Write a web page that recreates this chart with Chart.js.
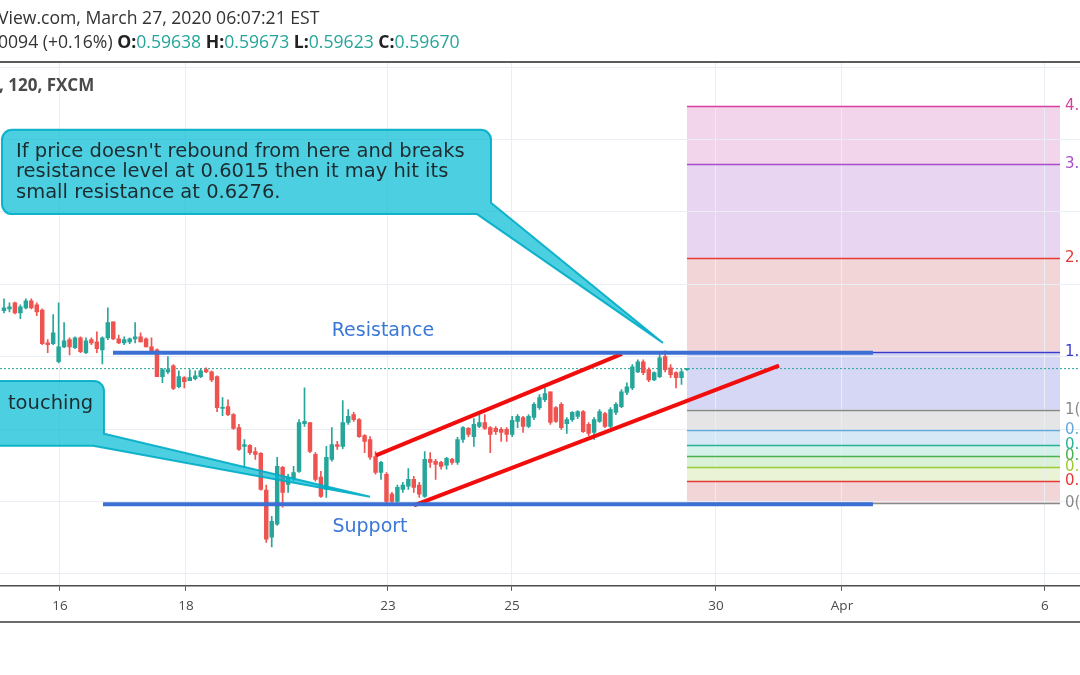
<!DOCTYPE html>
<html lang="en">
<head>
<meta charset="UTF-8">
<title>NZDUSD, 120, FXCM</title>
<script src="https://cdn.jsdelivr.net/npm/chart.js"></script>
<style>
  html, body { margin: 0; padding: 0; background: #fff; }
  body { width: 1080px; height: 675px; position: relative; overflow: hidden; font-family: "Open Sans", sans-serif; }
  #chart { position: absolute; left: 0; top: 0; }
  .hdr { position: absolute; left: -2px; white-space: nowrap; font-size: 17.6px; color: #333; line-height: 20px; }
  .hdr b { color: #222; }
  .hdr .v { color: #26a69a; }
  #sep { position: absolute; left: 0; top: 61px; width: 1080px; height: 2px; background: #5a5a5a; }
  #sym { position: absolute; left: -1px; top: 73px; font-size: 17px; font-weight: bold; color: #4a4a4a; white-space: nowrap; }
  #foot { position: absolute; left: 0; top: 621px; width: 1080px; height: 2px; background: #6b6b6b; }
</style>
</head>
<body>
<canvas id="chart" width="1080" height="675"></canvas>
<div class="hdr" style="top:7px">View.com, March 27, 2020 06:07:21 EST</div>
<div class="hdr" style="top:31px">0094 (+0.16%) <b>O:</b><span class="v">0.59638</span> <b>H:</b><span class="v">0.59673</span> <b>L:</b><span class="v">0.59623</span> <b>C:</b><span class="v">0.59670</span></div>
<div id="sep"></div>
<div id="sym">, 120, FXCM</div>
<div id="foot"></div>

<script>
// 2h candles
const open = [
  0.6127, 0.6132, 0.6149, 0.6121, 0.6135, 0.6154, 0.6143, 0.6129, 0.6038, 0.6036,
  0.5986, 0.6027, 0.6047, 0.6025, 0.6052, 0.6011, 0.6047, 0.6041, 0.6019, 0.6052,
  0.6096, 0.6049, 0.6038, 0.6041, 0.6049, 0.6055, 0.6049, 0.6027, 0.6019, 0.5945,
  0.5958, 0.5975, 0.5917, 0.5942, 0.5934, 0.5939, 0.5945, 0.5964, 0.5958, 0.5945,
  0.5857, 0.5862, 0.5840, 0.5804, 0.5752, 0.5755, 0.5738, 0.5733, 0.5631, 0.5501,
  0.5537, 0.5694, 0.5647, 0.5664, 0.5683, 0.5815, 0.5818, 0.5730, 0.5667, 0.5633,
  0.5716, 0.5757, 0.5752, 0.5818, 0.5840, 0.5826, 0.5782, 0.5771, 0.5724, 0.5680,
  0.5675, 0.5620, 0.5600, 0.5633, 0.5642, 0.5661, 0.5645, 0.5614, 0.5716, 0.5711,
  0.5708, 0.5700, 0.5716, 0.5708, 0.5771, 0.5802, 0.5779, 0.5807, 0.5818, 0.5804,
  0.5802, 0.5799, 0.5799, 0.5785, 0.5821, 0.5832, 0.5807, 0.5832, 0.5859, 0.5881,
  0.5903, 0.5859, 0.5868, 0.5815, 0.5826, 0.5835, 0.5848, 0.5813, 0.5791, 0.5821,
  0.5843, 0.5807, 0.5846, 0.5862, 0.5901, 0.5914, 0.5958, 0.5986, 0.5964, 0.5936,
  0.5945, 0.6000, 0.5969, 0.5956, 0.5942, 0.59638
];
const high = [
  0.6160, 0.6149, 0.6151, 0.6143, 0.6160, 0.6160, 0.6149, 0.6132, 0.6047, 0.6116,
  0.6149, 0.6094, 0.6052, 0.6055, 0.6055, 0.6052, 0.6052, 0.6069, 0.6055, 0.6135,
  0.6096, 0.6060, 0.6055, 0.6052, 0.6094, 0.6066, 0.6052, 0.6052, 0.6022, 0.5967,
  0.6000, 0.5978, 0.5961, 0.5945, 0.5964, 0.5961, 0.5967, 0.5969, 0.5961, 0.5947,
  0.5887, 0.5881, 0.5843, 0.5813, 0.5771, 0.5757, 0.5749, 0.5735, 0.5645, 0.5559,
  0.5722, 0.5697, 0.5675, 0.5697, 0.5826, 0.5914, 0.5818, 0.5735, 0.5683, 0.5752,
  0.5804, 0.5766, 0.5879, 0.5854, 0.5846, 0.5829, 0.5785, 0.5779, 0.5738, 0.5711,
  0.5680, 0.5625, 0.5645, 0.5653, 0.5691, 0.5669, 0.5653, 0.5738, 0.5735, 0.5716,
  0.5711, 0.5722, 0.5719, 0.5777, 0.5807, 0.5804, 0.5829, 0.5840, 0.5840, 0.5807,
  0.5807, 0.5804, 0.5804, 0.5835, 0.5840, 0.5835, 0.5840, 0.5873, 0.5895, 0.5914,
  0.5903, 0.5862, 0.5873, 0.5832, 0.5848, 0.5851, 0.5851, 0.5818, 0.5832, 0.5854,
  0.5846, 0.5859, 0.5873, 0.5909, 0.5928, 0.5978, 0.5991, 0.5991, 0.5969, 0.5958,
  0.6005, 0.6016, 0.5978, 0.5958, 0.5964, 0.59673
];
const low = [
  0.6121, 0.6124, 0.6118, 0.6105, 0.6132, 0.6132, 0.6113, 0.6033, 0.6011, 0.6033,
  0.5983, 0.6025, 0.6005, 0.6022, 0.6011, 0.6008, 0.6033, 0.6011, 0.5980, 0.6047,
  0.6047, 0.6036, 0.6033, 0.6036, 0.6038, 0.6041, 0.6027, 0.6014, 0.5945, 0.5928,
  0.5953, 0.5909, 0.5914, 0.5914, 0.5934, 0.5936, 0.5942, 0.5956, 0.5931, 0.5848,
  0.5837, 0.5837, 0.5799, 0.5741, 0.5694, 0.5730, 0.5716, 0.5631, 0.5487, 0.5474,
  0.5534, 0.5584, 0.5625, 0.5656, 0.5680, 0.5807, 0.5735, 0.5656, 0.5611, 0.5611,
  0.5711, 0.5744, 0.5746, 0.5813, 0.5821, 0.5777, 0.5735, 0.5716, 0.5675, 0.5661,
  0.5592, 0.5598, 0.5598, 0.5625, 0.5633, 0.5625, 0.5611, 0.5611, 0.5694, 0.5661,
  0.5689, 0.5689, 0.5702, 0.5702, 0.5763, 0.5779, 0.5752, 0.5804, 0.5799, 0.5735,
  0.5785, 0.5766, 0.5766, 0.5779, 0.5804, 0.5791, 0.5804, 0.5826, 0.5854, 0.5876,
  0.5813, 0.5818, 0.5799, 0.5788, 0.5821, 0.5829, 0.5791, 0.5782, 0.5771, 0.5818,
  0.5804, 0.5804, 0.5840, 0.5859, 0.5895, 0.5909, 0.5956, 0.5950, 0.5931, 0.5934,
  0.5942, 0.5958, 0.5942, 0.5914, 0.5923, 0.59623
];
const close = [
  0.6135, 0.6138, 0.6121, 0.6138, 0.6154, 0.6135, 0.6124, 0.6036, 0.6033, 0.6066,
  0.6027, 0.6044, 0.6027, 0.6052, 0.6014, 0.6044, 0.6038, 0.6022, 0.6052, 0.6094,
  0.6049, 0.6038, 0.6047, 0.6049, 0.6055, 0.6041, 0.6027, 0.6014, 0.5945, 0.5964,
  0.5964, 0.5912, 0.5945, 0.5931, 0.5942, 0.5947, 0.5961, 0.5958, 0.5936, 0.5859,
  0.5859, 0.5840, 0.5802, 0.5744, 0.5757, 0.5735, 0.5730, 0.5633, 0.5496, 0.5545,
  0.5697, 0.5625, 0.5667, 0.5680, 0.5818, 0.5821, 0.5738, 0.5661, 0.5614, 0.5722,
  0.5757, 0.5752, 0.5818, 0.5835, 0.5826, 0.5779, 0.5766, 0.5722, 0.5680, 0.5708,
  0.5600, 0.5600, 0.5639, 0.5645, 0.5661, 0.5639, 0.5620, 0.5716, 0.5708, 0.5702,
  0.5697, 0.5719, 0.5708, 0.5771, 0.5804, 0.5785, 0.5813, 0.5818, 0.5802, 0.5785,
  0.5793, 0.5791, 0.5785, 0.5824, 0.5835, 0.5807, 0.5835, 0.5868, 0.5887, 0.5898,
  0.5818, 0.5821, 0.5804, 0.5826, 0.5846, 0.5848, 0.5793, 0.5788, 0.5826, 0.5848,
  0.5807, 0.5854, 0.5868, 0.5903, 0.5917, 0.5972, 0.5986, 0.5956, 0.5936, 0.5956,
  0.5997, 0.5964, 0.5950, 0.5942, 0.5958, 0.59670
];

// x is the bar number; day labels sit at these bar positions
const dayTicks = [10.25, 33.31, 70.28, 92.97, 130.31, 153.37, 190.52];
const dayLabels = ['16', '18', '23', '25', '30', 'Apr', '6'];

// drawings (bar, price)
const resistance = [[19.95, 0.6011], [159.04, 0.6011]];
const support = [[18.12, 0.5592], [159.04, 0.5592]];
const channelTop = [[68.08, 0.5727], [113.1, 0.6008]];
const channelBottom = [[75.04, 0.5589], [141.84, 0.5975]];

// fib extension
const fibRatios = [0, 0.236, 0.382, 0.5, 0.618, 0.786, 1, 1.618, 2.618, 3.618, 4.236];
const fibZero = 0.5595, fibOne = 0.5854;
const fibFrom = 125.0, fibTo = 193.26;

const fibLine = ['#8a8a8a', '#e53935', '#9ccc33', '#4caf50', '#26b39a', '#64a8d8', '#8a8a8a', '#3d3dcc', '#e53935', '#a64ccc', '#d63fa0'];
const fibFill = [null, '#f2d5d6', '#eaf3d6', '#d9f2d7', '#d5f2ea', '#d6e8f5', '#e5e5e5', '#d6d6f5', '#f2d5d6', '#e8d5f2', '#f2d5ea'];

const callouts = [
  { box: [-0.37, 0.6627, 89.13, 0.6394], tailRight: 0.6425, tailBottom: 86.57, tip: [120.61, 0.6038],
    at: [2.2, 0.6566],
    lines: ["If price doesn't rebound from here and breaks", "resistance level at 0.6015 then it may hit its", "small resistance at 0.6276."] },
  { box: [-4.4, 0.5933, 18.3, 0.5754], tailRight: 0.5787, tailBottom: 16.29, tip: [66.98, 0.5613],
    at: [0.73, 0.5870], lines: ['touching'] }
];
const labels = [
  { text: 'Resistance', at: [69.36, 0.6071] },
  { text: 'Support', at: [66.98, 0.5530] }
];

const bars = open.map((_, i) => i);
const lastPrice = close[close.length - 1];
const xMin = -0.73, xMax = 196.93;
const upColor = '#26a69a', downColor = '#ef5350';
const candleColor = c => close[c.dataIndex] >= open[c.dataIndex] ? upColor : downColor;
const pts = arr => arr.map(([x, y]) => ({ x, y }));
const fibPrice = r => fibZero + r * (fibOne - fibZero);

const fibPlugin = {
  id: 'fib',
  beforeDraw(chart) {
    const { ctx, scales: { x, y } } = chart;
    const x1 = x.getPixelForValue(fibFrom), x2 = x.getPixelForValue(fibTo);
    ctx.save();
    for (let i = 1; i < fibRatios.length; i++) {
      const top = y.getPixelForValue(fibPrice(fibRatios[i]));
      const bot = y.getPixelForValue(fibPrice(fibRatios[i - 1]));
      ctx.fillStyle = fibFill[i];
      ctx.fillRect(x1, top, x2 - x1, bot - top);
    }
    ctx.restore();
  },
  beforeDatasetsDraw(chart) {
    const { ctx, scales: { x, y } } = chart;
    const x1 = x.getPixelForValue(fibFrom), x2 = x.getPixelForValue(fibTo);
    ctx.save();
    ctx.font = '15px "DejaVu Sans"';
    ctx.textBaseline = 'middle';
    fibRatios.forEach((r, i) => {
      const py = Math.round(y.getPixelForValue(fibPrice(r))) + 0.5;
      ctx.strokeStyle = fibLine[i];
      ctx.lineWidth = 1.5;
      ctx.beginPath(); ctx.moveTo(x1, py); ctx.lineTo(x2, py); ctx.stroke();
      ctx.fillStyle = fibLine[i];
      ctx.fillText(r + '(' + fibPrice(r).toFixed(4) + ')', x2 + 5, py);
    });
    ctx.restore();
  },
  afterDatasetsDraw(chart) {
    const { ctx, scales: { x, y } } = chart;
    ctx.save();
    callouts.forEach(c => {
      const L = x.getPixelForValue(c.box[0]), T = y.getPixelForValue(c.box[1]);
      const R = x.getPixelForValue(c.box[2]), B = y.getPixelForValue(c.box[3]);
      const ty = y.getPixelForValue(c.tailRight), tx = x.getPixelForValue(c.tailBottom);
      const px = x.getPixelForValue(c.tip[0]), py = y.getPixelForValue(c.tip[1]);
      const r = 10;
      ctx.beginPath();
      ctx.moveTo(L + r, T);
      ctx.lineTo(R - r, T); ctx.arcTo(R, T, R, T + r, r);
      ctx.lineTo(R, ty); ctx.lineTo(px, py); ctx.lineTo(tx, B);
      ctx.lineTo(L + r, B); ctx.arcTo(L, B, L, B - r, r);
      ctx.lineTo(L, T + r); ctx.arcTo(L, T, L + r, T, r);
      ctx.closePath();
      ctx.fillStyle = 'rgba(0, 188, 212, 0.7)';
      ctx.fill();
      ctx.strokeStyle = 'rgba(0, 172, 198, 0.9)';
      ctx.lineWidth = 2;
      ctx.stroke();
      ctx.fillStyle = '#1c2b30';
      ctx.font = '19.5px "DejaVu Sans"';
      ctx.textBaseline = 'middle';
      ctx.textAlign = 'left';
      const tx0 = x.getPixelForValue(c.at[0]), ty0 = y.getPixelForValue(c.at[1]);
      c.lines.forEach((s, k) => ctx.fillText(s, tx0, ty0 + k * 20.5));
    });
    ctx.fillStyle = '#3a78d8';
    ctx.font = '19px "DejaVu Sans"';
    ctx.textAlign = 'center';
    ctx.textBaseline = 'middle';
    labels.forEach(l => ctx.fillText(l.text, x.getPixelForValue(l.at[0]), y.getPixelForValue(l.at[1])));
    ctx.restore();
  }
};

const lineSet = (label, data, color, order) => ({
  type: 'line', label, data: pts(data), borderColor: color, borderWidth: 4,
  pointRadius: 0, tension: 0, order
});

new Chart(document.getElementById('chart'), {
  type: 'bar',
  data: {
    datasets: [
      lineSet('Resistance', resistance, '#3b6fd4', 1),
      lineSet('Support', support, '#3b6fd4', 1),
      lineSet('Channel top', channelTop, '#f20d0d', 2),
      lineSet('Channel bottom', channelBottom, '#f20d0d', 2),
      {
        type: 'line', label: 'Last', data: [{ x: xMin, y: lastPrice }, { x: xMax, y: lastPrice }],
        borderColor: '#26a69a', borderWidth: 1, borderDash: [2, 2], pointRadius: 0, order: 7
      },
      {
        type: 'bar', label: 'Body', data: bars.map(i => ({ x: i, y: [open[i], close[i]] })),
        backgroundColor: candleColor, borderWidth: 0, barThickness: 3.8, minBarLength: 1,
        grouped: false, order: 5
      },
      {
        type: 'bar', label: 'Wick', data: bars.map(i => ({ x: i, y: [low[i], high[i]] })),
        backgroundColor: candleColor, borderWidth: 0, barThickness: 1,
        grouped: false, order: 6
      }
    ]
  },
  options: {
    responsive: false,
    animation: false,
    layout: { padding: { top: 63, bottom: 54, left: 0, right: 0 } },
    plugins: { legend: { display: false }, tooltip: { enabled: false } },
    scales: {
      x: {
        type: 'linear', min: xMin, max: xMax, offset: false,
        grid: { color: '#e8eef4', offset: false, tickLength: 5, tickColor: '#555' },
        border: { color: '#4d4d4d', width: 1.5 },
        afterBuildTicks: s => { s.ticks = dayTicks.map(v => ({ value: v })); },
        ticks: {
          autoSkip: false, maxRotation: 0, padding: 7, color: '#4a4a4a',
          font: { family: 'Open Sans', size: 13.5 },
          callback: (v, i) => dayLabels[i]
        }
      },
      y: {
        type: 'linear', position: 'right', min: 0.53668, max: 0.68116,
        grid: { color: '#e8eef4', drawTicks: false },
        border: { display: false },
        ticks: { display: false, stepSize: 0.02, includeBounds: false }
      }
    }
  },
  plugins: [fibPlugin]
});
</script>
</body>
</html>
